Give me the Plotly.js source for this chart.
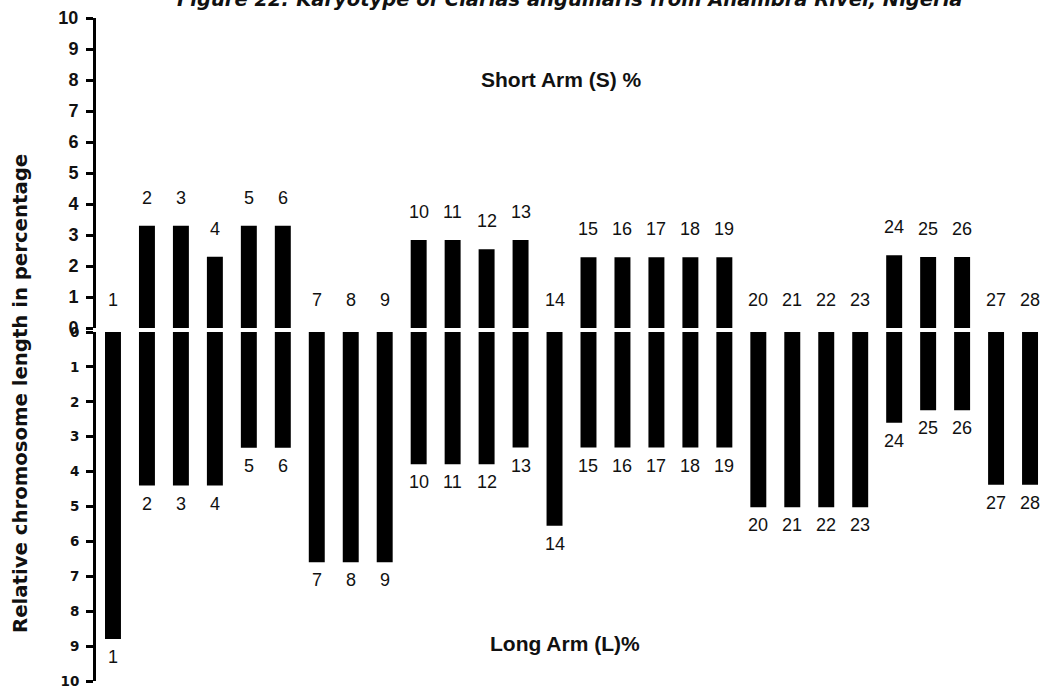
<!DOCTYPE html>
<html>
<head>
<meta charset="utf-8">
<script src="https://cdn.plot.ly/plotly-3.0.1.min.js"></script>
<style>html,body{margin:0;padding:0;background:#fff;}#chart{width:1046px;height:690px;}</style>
</head>
<body>
<div id="chart"></div>
<script>
// Chromosome pair numbers
const chromosomes = [1,2,3,4,5,6,7,8,9,10,11,12,13,14,15,16,17,18,19,20,21,22,23,24,25,26,27,28];
const chromosomeLabels = chromosomes.map(String);
// Short arm (S) relative length, %
const shortArm = [0,3.3,3.3,2.3,3.3,3.3,0,0,0,2.84,2.84,2.54,2.84,0,2.28,2.28,2.28,2.28,2.28,0,0,0,0,2.35,2.29,2.29,0,0];
// Long arm (L) relative length, %
const longArm = [8.8,4.4,4.4,4.4,3.32,3.32,6.6,6.6,6.6,3.79,3.79,3.79,3.31,5.55,3.31,3.31,3.31,3.31,3.31,5.02,5.02,5.02,5.02,2.6,2.24,2.24,4.38,4.38];
const yTicks = [0,1,2,3,4,5,6,7,8,9,10];

const H = 690;
const barWidth = 0.47;

const traces = [
  {type:'bar', x:chromosomes, y:shortArm, xaxis:'x', yaxis:'y', width:barWidth,
   marker:{color:'#000', line:{width:0}}, hoverinfo:'skip'},
  {type:'bar', x:chromosomes, y:longArm, xaxis:'x', yaxis:'y2', width:barWidth,
   marker:{color:'#000', line:{width:0}}, hoverinfo:'skip'}
];

const annotations = [];
chromosomes.forEach((c,i)=>{
  annotations.push({x:c, y:shortArm[i], xref:'x', yref:'y', text:chromosomeLabels[i],
    showarrow:false, yanchor:'middle', yshift:28,
    font:{family:'Liberation Sans, Arial', size:18, color:'#111'}});
  annotations.push({x:c, y:longArm[i], xref:'x', yref:'y2', text:chromosomeLabels[i],
    showarrow:false, yanchor:'middle', yshift:-18,
    font:{family:'Liberation Sans, Arial', size:18, color:'#111'}});
});
annotations.push({x:561, y:80, xref:'paper', yref:'paper', text:'<b>Short Arm (S) %</b>',
  showarrow:false, xanchor:'center', yanchor:'middle', font:{family:'Liberation Sans, Arial', size:21, color:'#111'}});
annotations.push({x:565, y:643, xref:'paper', yref:'paper', text:'<b>Long Arm (L)%</b>',
  showarrow:false, xanchor:'center', yanchor:'middle', font:{family:'Liberation Sans, Arial', size:21, color:'#111'}});
annotations.push({x:20, y:394, xref:'paper', yref:'paper', textangle:-90,
  text:'<b>Relative chromosome length in percentage</b>', xanchor:'center', yanchor:'middle',
  showarrow:false, font:{family:'DejaVu Sans, Verdana', size:19.7, color:'#111'}});
annotations.push({x:569, y:-1, xref:'paper', yref:'paper',
  text:'<b><i>Figure 22: Karyotype of Clarias anguillaris from Anambra River, Nigeria</i></b>',
  showarrow:false, xanchor:'center', yanchor:'middle', font:{family:'DejaVu Sans, Verdana', size:19.5, color:'#111'}});

// convert pixel-based placements of free text to paper coords
annotations.forEach(a=>{
  if (a.xref==='paper') {
    a.x = (a.x - 96) / (1046 - 96);
    a.y = 1 - a.y / H;
  }
});

const layout = {
  width:1046, height:690,
  margin:{l:96, r:0, t:0, b:0},
  paper_bgcolor:'#fff', plot_bgcolor:'#fff',
  showlegend:false,
  barmode:'overlay',
  xaxis:{range:[0.5,28.47], visible:false, fixedrange:true},
  yaxis:{domain:[1-328/H, 1-18/H], range:[0,10], tickvals:yTicks, ticktext:yTicks.map(String),
    showline:true, linewidth:3, linecolor:'#000', ticks:'outside', ticklen:7, tickwidth:3, tickcolor:'#000',
    showgrid:false, zeroline:false, anchor:'x', ticklabelstandoff:4,
    tickfont:{family:'Liberation Sans, Arial', size:18, color:'#111', weight:'bold'}},
  yaxis2:{domain:[1-681/H, 1-332/H], range:[10,0], tickvals:yTicks, ticktext:yTicks.map(String),
    showline:true, linewidth:3, linecolor:'#000', ticks:'outside', ticklen:7, tickwidth:3, tickcolor:'#000',
    showgrid:false, zeroline:false, anchor:'x', ticklabelstandoff:4,
    tickfont:{family:'DejaVu Sans, Verdana', size:13.5, color:'#111', weight:'bold'}},
  annotations:annotations
};

Plotly.newPlot('chart', traces, layout, {staticPlot:true});
</script>
</body>
</html>
